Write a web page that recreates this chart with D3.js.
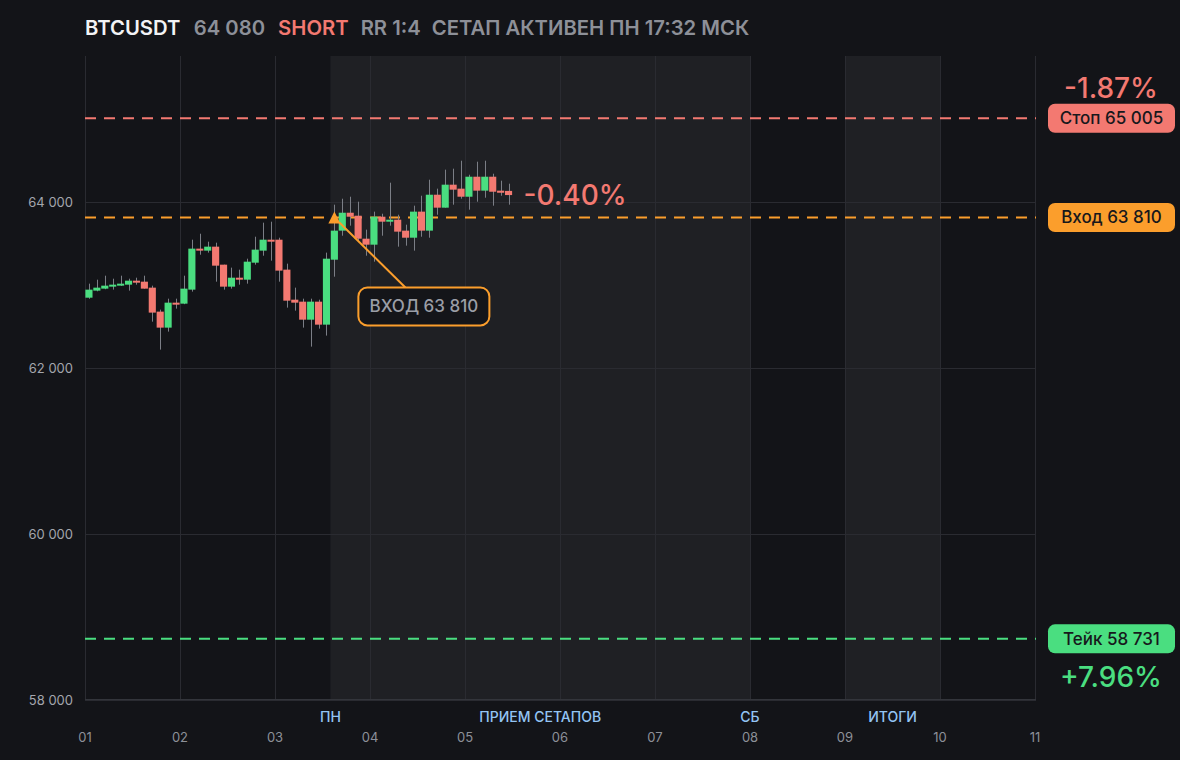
<!DOCTYPE html>
<html><head><meta charset="utf-8">
<script src="https://cdn.jsdelivr.net/npm/d3@7"></script>
<style>
html,body{margin:0;padding:0;background:#131418;}
svg{display:block;font-family:Inter,"Noto Sans",sans-serif;}
</style></head>
<body><svg id="c" width="1180" height="760"></svg>
<script>
// ---- data ----
const symbol = "BTCUSDT";
const lastPrice = 64080;
const side = "SHORT";
const rr = "RR 1:4";
const status = "СЕТАП АКТИВЕН ПН 17:32 МСК";
const hoursPerCandle = 2;
const openV  = [62843,62928,62952,62976,62988,63000,63048,63036,62964,62675,62482,62783,62771,62940,63434,63410,63458,63241,62976,63084,63060,63265,63410,63542,63542,63181,62819,62795,62578,62795,62518,63301,63651,63867,63831,63554,63482,63819,63759,63783,63651,63566,63880,63651,64084,63928,64205,64157,64060,64301,64133,64301,64133,64130];
const highV  = [63012,63060,63108,63072,63108,63072,63084,63108,62988,62699,62831,62831,63108,63542,63614,63518,63506,63241,63205,63181,63313,63578,63747,63759,63566,63253,62964,62831,62831,62819,63386,63964,64036,64060,64000,63663,63880,63855,64229,63843,63723,63952,64072,64265,64157,64386,64398,64494,64325,64482,64494,64337,64253,64217];
const lowV   = [62830,62920,62945,62940,62985,62928,63000,62952,62554,62217,62434,62711,62765,62916,63361,63386,63036,62940,62952,63000,63012,63241,63349,63289,63036,62723,62687,62482,62253,62470,62386,63096,63590,63711,63530,63349,63277,63590,63711,63458,63470,63410,63578,63566,63843,63928,63964,64036,63904,64000,64048,63952,64072,63964];
const closeV = [62940,62964,62988,63000,63012,63048,63024,62952,62663,62482,62783,62759,62952,63434,63410,63458,63229,62976,63084,63060,63277,63422,63542,63518,63169,62807,62783,62578,62795,62518,63313,63651,63867,63819,63554,63482,63819,63759,63783,63639,63566,63880,63651,64084,63928,64205,64145,64060,64301,64133,64301,64120,64108,64080];
const dayTicks = [1,2,3,4,5,6,7,8,9,10,11];
const dayLabels = ["01","02","03","04","05","06","07","08","09","10","11"];
const priceTicks = [58000,60000,62000,64000];
const stopPrice = 65005, entryPrice = 63810, takePrice = 58731;
const entryIndex = 31;
const sessions = [{from:1+31/12, to:8}, {from:9, to:10}];
const sessionLabels = [{t:1+31/12, text:"ПН"}, {t:(1+31/12+8)/2, text:"ПРИЕМ СЕТАПОВ"}, {t:8, text:"СБ"}, {t:9.5, text:"ИТОГИ"}];
const livePct = "-0.40%", stopPct = "-1.87%", takePct = "+7.96%";

// ---- setup ----
const fmt = d3.formatLocale({decimal:".", thousands:" ", grouping:[3], currency:["",""]}).format(",d");
const svg = d3.select("#c");
const W = 1180, H = 760;
const L = 85, R = 1036, T = 56, B = 699;
const x = d3.scaleLinear().domain([1,11]).range([85,1035]);
const y = d3.scaleLinear().domain([58000,65750]).range([B+0.5,T+0.5]);
const C = {bg:"#131418", band:"#1f2024", grid:"#2a2b31", green:"#4ade80", red:"#f37971", orange:"#fb9e2c", wick:"#7b7e86", txt:"#9b9ea6"};

svg.append("rect").attr("width",W).attr("height",H).attr("fill",C.bg);

// bands
svg.append("g").selectAll("rect").data(sessions).join("rect")
  .attr("x",d=>x(d.from)).attr("width",d=>x(d.to)-x(d.from))
  .attr("y",T).attr("height",B-T).attr("fill",C.band);

// grid
const g = svg.append("g");
g.selectAll(".vg").data(dayTicks).join("line")
  .attr("x1",d=>x(d)+0.5).attr("x2",d=>x(d)+0.5).attr("y1",T).attr("y2",B)
  .attr("stroke",C.grid).attr("stroke-width",1);
g.selectAll(".hg").data(priceTicks).join("line")
  .attr("x1",L).attr("x2",R).attr("y1",d=>Math.round(y(d))+0.5).attr("y2",d=>Math.round(y(d))+0.5)
  .attr("stroke",C.grid).attr("stroke-width",1);
g.append("line").attr("x1",L).attr("x2",R).attr("y1",B+0.5).attr("y2",B+0.5).attr("stroke","#33353b");

// y labels
svg.append("g").selectAll("text").data(priceTicks).join("text")
  .attr("x",73).attr("y",d=>y(d)+5.5).attr("text-anchor","end")
  .attr("fill","#a3a6ad").attr("font-size",13).text(d=>fmt(d));

// x labels
svg.append("g").selectAll("text").data(dayTicks).join("text")
  .attr("x",d=>x(d)).attr("y",742).attr("text-anchor","middle")
  .attr("fill","#8d9098").attr("font-size",13).text((d,i)=>dayLabels[i]);
svg.append("g").selectAll("text").data(sessionLabels).join("text")
  .attr("x",d=>x(d.t)).attr("y",722).attr("text-anchor","middle")
  .attr("fill","#93c5f4").attr("font-size",14).attr("font-weight",500).text(d=>d.text);

// level lines
const levels = [{p:stopPrice,c:C.red},{p:entryPrice,c:C.orange},{p:takePrice,c:C.green}];
svg.append("g").selectAll("line").data(levels).join("line")
  .attr("x1",L).attr("x2",R).attr("y1",d=>y(d.p)).attr("y2",d=>y(d.p))
  .attr("stroke",d=>d.c).attr("stroke-width",2).attr("stroke-dasharray","11,8");

// candles
const step = x(1+hoursPerCandle/24)-x(1);
const cx = i => x(1 + (i+0.5)*hoursPerCandle/24);
const bw = step*0.9;
const cg = svg.append("g");
const idx = d3.range(openV.length);
cg.selectAll(".w").data(idx).join("line")
  .attr("x1",i=>Math.round(cx(i))+0.5).attr("x2",i=>Math.round(cx(i))+0.5)
  .attr("y1",i=>y(highV[i])).attr("y2",i=>y(lowV[i]))
  .attr("stroke",C.wick).attr("stroke-width",1);
cg.selectAll(".b").data(idx).join("rect")
  .attr("x",i=>cx(i)-bw/2).attr("width",bw)
  .attr("y",i=>y(Math.max(openV[i],closeV[i])))
  .attr("height",i=>Math.max(2,Math.abs(y(openV[i])-y(closeV[i]))))
  .attr("fill",i=>closeV[i]>=openV[i]?C.green:C.red);

// entry annotation
const ex = cx(entryIndex), ey = y(entryPrice);
const bx = ex+24, by = ey+70, bW = 131, bH = 38;
svg.append("line").attr("x1",ex+5).attr("y1",ey+5).attr("x2",bx+47).attr("y2",by)
  .attr("stroke",C.orange).attr("stroke-width",2);
svg.append("path").attr("d",`M${ex},${ey-6}L${ex+6},${ey+6}L${ex-6},${ey+6}Z`).attr("fill",C.orange);
svg.append("rect").attr("x",bx).attr("y",by).attr("width",bW).attr("height",bH).attr("rx",9)
  .attr("fill","#141519").attr("stroke",C.orange).attr("stroke-width",2);
svg.append("text").attr("x",bx+bW/2).attr("y",by+bH/2+6).attr("text-anchor","middle")
  .attr("fill",C.txt).attr("font-size",17).attr("font-weight",500).text("ВХОД " + fmt(entryPrice));

// live pct
const li = openV.length-1;
svg.append("text").attr("x",cx(li)+15).attr("y",y(closeV[li])+10)
  .attr("fill",C.red).attr("font-size",28).attr("font-weight",500).text(livePct);

// right badges
const badges = [{p:stopPrice,c:C.red,t:"Стоп "+fmt(stopPrice)},{p:entryPrice,c:C.orange,t:"Вход "+fmt(entryPrice)},{p:takePrice,c:C.green,t:"Тейк "+fmt(takePrice)}];
const bgp = svg.append("g");
badges.forEach(d=>{
  const yy = y(d.p);
  bgp.append("rect").attr("x",1048).attr("y",yy-14.5).attr("width",127).attr("height",29).attr("rx",7).attr("fill",d.c);
  bgp.append("text").attr("x",1111.5).attr("y",yy+6).attr("text-anchor","middle")
    .attr("fill","#17181c").attr("font-size",17).attr("font-weight",500).text(d.t);
});
svg.append("text").attr("x",1111).attr("y",y(stopPrice)-20).attr("text-anchor","middle")
  .attr("fill",C.red).attr("font-size",28).attr("font-weight",500).text(stopPct);
svg.append("text").attr("x",1111).attr("y",y(takePrice)+48).attr("text-anchor","middle")
  .attr("fill",C.green).attr("font-size",28).attr("font-weight",500).text(takePct);

// header
const hdr = svg.append("text").attr("x",85).attr("y",35).attr("font-size",20.3).attr("font-weight",600);
hdr.append("tspan").attr("fill","#f2f3f5").text(symbol);
hdr.append("tspan").attr("dx",14).attr("fill","#8d9098").text(fmt(lastPrice));
hdr.append("tspan").attr("dx",13).attr("fill",C.red).text(side);
hdr.append("tspan").attr("dx",12).attr("fill","#8d9098").text(rr);
hdr.append("tspan").attr("dx",11).attr("fill","#8d9098").text(status);
</script></body></html>
